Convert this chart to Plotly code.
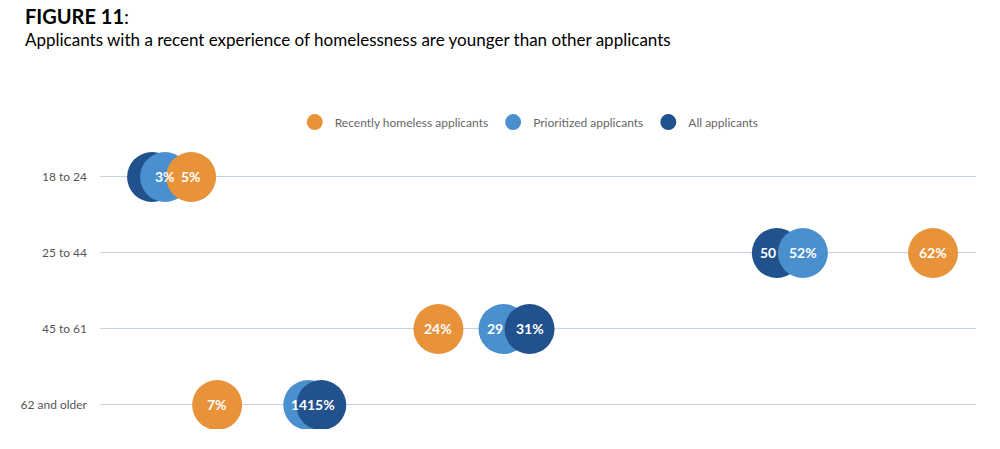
import plotly.graph_objects as go

categories = ["18 to 24", "25 to 44", "45 to 61", "62 and older"]
recent = [5, 62, 24, 7]
prioritized = [3, 52, 29, 14]
all_app = [2, 50, 31, 15]
# label text per bubble ("" = hidden, covered)
recent_lbl = ["5%", "62%", "24%", "7%"]
prioritized_lbl = ["3%", "52%", "29", "14"]
all_lbl = ["", "50", "31%", "15%"]

series = [
    ("Recently homeless applicants", recent, recent_lbl, "#E8923A"),
    ("Prioritized applicants", prioritized, prioritized_lbl, "#4A90CF"),
    ("All applicants", all_app, all_lbl, "#22528E"),
]

fig = go.Figure()
for name, vals, lbl, col in series:
    fig.add_trace(go.Scatter(x=[None], y=[None], mode="markers", name=name,
                             marker=dict(color=col, size=16)))

pts = []
for name, vals, lbl, col in series:
    for ri, v in enumerate(vals):
        pts.append((ri, v, col, lbl[ri]))

for ri in range(len(categories)):
    row = sorted([p for p in pts if p[0] == ri], key=lambda p: p[1])
    for (r, v, col, t) in row:
        fig.add_trace(go.Scatter(x=[v], y=[r], mode="markers", showlegend=False,
                                 marker=dict(color=col, size=50, line=dict(width=0)),
                                 hoverinfo="skip"))
        if t:
            fig.add_annotation(x=v, y=r, text=f"<b>{t}</b>", showarrow=False,
                               xshift=0 if "%" in t else -9,
                               font=dict(color="white", size=14, family="Lato"))

fig.update_layout(
    width=1000, height=449, plot_bgcolor="white", paper_bgcolor="white",
    margin=dict(l=92, r=32, t=142, b=28),
    font=dict(family="Lato", color="#555"),
    legend=dict(orientation="h", x=0.49, xanchor="center", y=1.1, yanchor="middle",
                font=dict(size=12, color="#666")),
    xaxis=dict(range=[-2.0, 65.3], visible=False),
    yaxis=dict(range=[3.316, -0.355], tickvals=list(range(4)), ticktext=categories,
               showgrid=True, gridcolor="#C5D2E0", zeroline=False,
               tickfont=dict(size=12, color="#555"), ticks="", ticklabelstandoff=12),
)
fig.add_annotation(xref="paper", yref="paper", x=-0.088, y=1.53, xanchor="left",
                   text="<b>FIGURE 11</b>:", showarrow=False,
                   font=dict(size=20, color="black", family="Lato"))
fig.add_annotation(xref="paper", yref="paper", x=-0.088, y=1.44, xanchor="left",
                   text="Applicants with a recent experience of homelessness are younger than other applicants",
                   showarrow=False, font=dict(size=17, color="black", family="Lato"))
fig.write_html("out.html")
